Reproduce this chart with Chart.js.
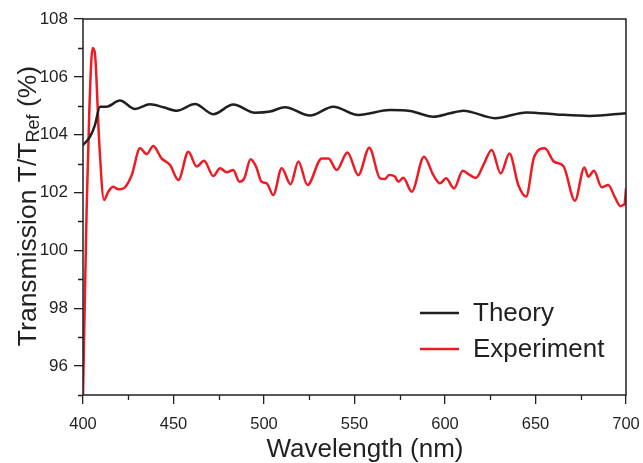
<!DOCTYPE html>
<html>
<head>
<meta charset="utf-8">
<script src="https://cdn.jsdelivr.net/npm/chart.js@4"></script>
<style>
  html, body { margin: 0; padding: 0; background: #fff; }
  #wrap { width: 643px; height: 463px; }
</style>
</head>
<body>
<div id="wrap"><canvas id="chart" width="643" height="463"></canvas></div>
<script>
const theoryWl = [400, 403.9, 406.6, 409.4, 413, 420.4, 428.7, 437, 444.4, 451.8, 461.9, 472, 483, 495, 503.3, 511.6, 525.4, 538.3, 552.1, 569.6, 580.7, 593.6, 602.8, 610.2, 627.6, 645.1, 661.7, 680, 700];
const theoryT = [103.64, 103.93, 104.33, 104.97, 104.97, 105.18, 104.89, 105.05, 104.95, 104.83, 105.06, 104.71, 105.04, 104.76, 104.8, 104.95, 104.66, 104.97, 104.68, 104.85, 104.82, 104.62, 104.74, 104.83, 104.57, 104.77, 104.7, 104.65, 104.74];

const expWl = [400, 402, 403.5, 405.3, 406.6, 409, 411.6, 414, 416.7, 419.5, 422.3, 426.9, 431.5, 435.2, 438.8, 443.4, 448.1, 452.7, 458.2, 462.8, 466.9, 472, 475.7, 479.4, 483, 486.4, 489.1, 492.6, 495.6, 498.7, 501.5, 505.1, 509.8, 514.7, 519, 524, 531.9, 535.6, 540.2, 546.1, 552.1, 558.2, 564.1, 566.9, 569.1, 572.4, 574.2, 577, 581.6, 588.4, 593.6, 597.2, 600.6, 605, 609.8, 613.8, 617.1, 621.2, 625.8, 630.8, 635.6, 640.5, 644.8, 649.2, 655.2, 660.2, 665.4, 671.8, 677, 679.2, 682.3, 686.6, 690.2, 693.9, 697, 698.5, 699.2, 700];
const expT = [95, 101.4, 104.85, 107.0, 106.8, 103.7, 101.74, 102.03, 102.2, 102.11, 102.14, 102.6, 103.53, 103.33, 103.61, 103.18, 102.95, 102.43, 103.41, 102.9, 103.1, 102.57, 102.84, 102.7, 102.78, 102.37, 102.49, 103.15, 102.9, 102.37, 102.32, 101.91, 102.84, 102.29, 103.07, 102.26, 103.18, 103.18, 102.78, 103.38, 102.6, 103.55, 102.49, 102.47, 102.61, 102.55, 102.37, 102.51, 102.03, 103.24, 102.6, 102.32, 102.49, 102.14, 102.75, 102.6, 102.51, 102.95, 103.47, 102.66, 103.35, 102.26, 101.86, 103.22, 103.53, 103.07, 102.92, 101.72, 102.87, 102.55, 102.75, 102.18, 102.26, 101.83, 101.53, 101.57, 101.6, 102.14];

const xMajor = [400, 450, 500, 550, 600, 650, 700];
const xMinor = [425, 475, 525, 575, 625, 675];
const yMajor = [96, 98, 100, 102, 104, 106, 108];
const yMinor = [95, 97, 99, 101, 103, 105, 107];

const seriesNames = ['Theory', 'Experiment'];
const seriesColors = ['#231f20', '#ed1c24'];
const INK = '#231f20';
const FONT = '"Liberation Sans", Arial, Helvetica, sans-serif';

const frame = {
  id: 'frame',
  afterDraw(chart) {
    const { ctx, chartArea: a, scales } = chart;
    ctx.save();
    ctx.strokeStyle = INK;
    ctx.lineWidth = 1.5;
    ctx.strokeRect(a.left, a.top, a.right - a.left, a.bottom - a.top);

    // minor ticks
    ctx.lineWidth = 1.3;
    ctx.beginPath();
    yMinor.forEach(v => {
      const y = Math.round(scales.y.getPixelForValue(v)) + 0.5;
      ctx.moveTo(a.left - 5, y);
      ctx.lineTo(a.left, y);
    });
    xMinor.forEach(v => {
      const x = Math.round(scales.x.getPixelForValue(v)) + 0.5;
      ctx.moveTo(x, a.bottom);
      ctx.lineTo(x, a.bottom + 5);
    });
    ctx.stroke();

    // x title
    ctx.fillStyle = INK;
    ctx.font = '26px ' + FONT;
    ctx.textAlign = 'center';
    ctx.textBaseline = 'alphabetic';
    ctx.fillText('Wavelength (nm)', 365, 457);

    // y title with subscript
    const parts = [
      { t: 'Transmission T/T', size: 26.5, dy: 0 },
      { t: 'Ref', size: 18, dy: 3 },
      { t: ' (%)', size: 26.5, dy: 0 },
    ];
    let total = 0;
    parts.forEach(p => { ctx.font = p.size + 'px ' + FONT; p.w = ctx.measureText(p.t).width; total += p.w; });
    ctx.translate(36, 206);
    ctx.rotate(-Math.PI / 2);
    ctx.textAlign = 'left';
    let px = -total / 2;
    parts.forEach(p => {
      ctx.font = p.size + 'px ' + FONT;
      ctx.fillText(p.t, px, p.dy);
      px += p.w;
    });
    ctx.restore();

    // legend
    ctx.save();
    const rows = [313, 349];
    chart.data.datasets.forEach((ds, i) => {
      ctx.strokeStyle = ds.borderColor;
      ctx.lineWidth = 2.5;
      ctx.beginPath();
      ctx.moveTo(420, rows[i]);
      ctx.lineTo(459, rows[i]);
      ctx.stroke();
      ctx.fillStyle = INK;
      ctx.font = '26px ' + FONT;
      ctx.textAlign = 'left';
      ctx.textBaseline = 'middle';
      ctx.fillText(ds.label, 473, rows[i] + 1);
    });
    ctx.restore();
  }
};

new Chart(document.getElementById('chart'), {
  type: 'line',
  data: {
    datasets: [
      {
        label: seriesNames[0],
        data: theoryWl.map((x, i) => ({ x, y: theoryT[i] })),
        borderColor: seriesColors[0],
        borderWidth: 2.5,
        pointRadius: 0,
        cubicInterpolationMode: 'monotone',
      },
      {
        label: seriesNames[1],
        data: expWl.map((x, i) => ({ x, y: expT[i] })),
        borderColor: seriesColors[1],
        borderWidth: 2.5,
        pointRadius: 0,
        cubicInterpolationMode: 'monotone',
      },
    ],
  },
  options: {
    responsive: false,
    animation: false,
    layout: { padding: { left: 0, right: 17, top: 19, bottom: 0 } },
    plugins: { legend: { display: false }, tooltip: { enabled: false } },
    scales: {
      x: {
        type: 'linear',
        min: 400,
        max: 700,
        afterBuildTicks: s => { s.ticks = xMajor.map(v => ({ value: v })); },
        afterFit: s => { s.height = 68; s.paddingLeft = 0; s.paddingRight = 0; },
        grid: { drawOnChartArea: false, tickLength: 9, color: INK, lineWidth: 1.3 },
        border: { display: false },
        ticks: { color: INK, font: { family: FONT, size: 16.5 }, padding: 11, maxRotation: 0 },
      },
      y: {
        min: 95,
        max: 108,
        afterBuildTicks: s => { s.ticks = yMajor.map(v => ({ value: v })); },
        afterFit: s => { s.width = 83; s.paddingTop = 0; s.paddingBottom = 0; },
        grid: { drawOnChartArea: false, tickLength: 9, color: INK, lineWidth: 1.3 },
        border: { display: false },
        ticks: { color: INK, font: { family: FONT, size: 17 }, padding: 6 },
      },
    },
  },
  plugins: [frame],
});
</script>
</body>
</html>
